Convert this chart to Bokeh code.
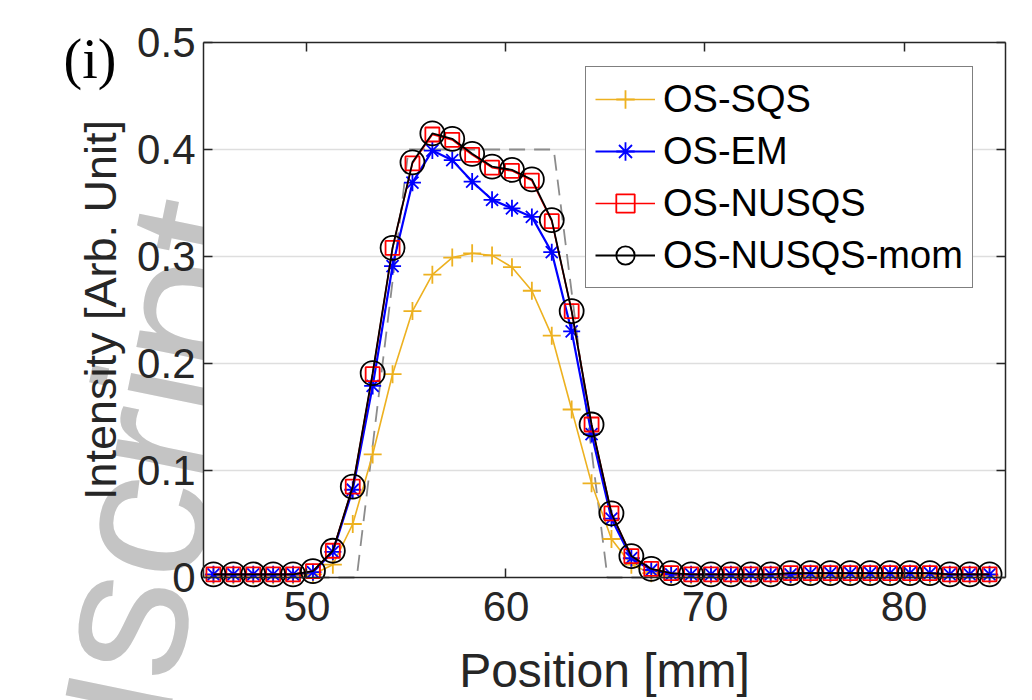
from bokeh.plotting import figure
from bokeh.models import (Range1d, FixedTicker, LinearAxis, Legend, LegendItem, Grid)
from bokeh.core.properties import value
from bokeh.embed import file_html
from bokeh.resources import INLINE
from math import radians

# ---------------- data ----------------
position_mm = [45.3, 46.3, 47.3, 48.3, 49.3, 50.3, 51.3, 52.3, 53.3, 54.3,
               55.3, 56.3, 57.3, 58.3, 59.3, 60.3, 61.3, 62.3, 63.3, 64.3,
               65.3, 66.3, 67.3, 68.3, 69.3, 70.3, 71.3, 72.3, 73.3, 74.3,
               75.3, 76.3, 77.3, 78.3, 79.3, 80.3, 81.3, 82.3, 83.3, 84.3]

os_sqs = [0.002, 0.002, 0.002, 0.002, 0.002, 0.003, 0.012, 0.050, 0.115, 0.190,
          0.249, 0.283, 0.299, 0.303, 0.301, 0.290, 0.268, 0.226, 0.157, 0.088,
          0.036, 0.012, 0.004, 0.002, 0.002, 0.002, 0.002, 0.002, 0.002, 0.002,
          0.002, 0.002, 0.002, 0.002, 0.002, 0.002, 0.002, 0.002, 0.002, 0.002]

os_em = [0.003, 0.003, 0.003, 0.003, 0.003, 0.005, 0.024, 0.082, 0.179, 0.291,
         0.369, 0.399, 0.390, 0.370, 0.353, 0.345, 0.337, 0.304, 0.230, 0.134,
         0.055, 0.018, 0.007, 0.003, 0.003, 0.003, 0.003, 0.003, 0.003, 0.003,
         0.004, 0.004, 0.004, 0.004, 0.004, 0.004, 0.004, 0.003, 0.003, 0.003]

os_nusqs = [0.003, 0.003, 0.003, 0.003, 0.003, 0.006, 0.025, 0.085, 0.190, 0.308,
            0.387, 0.414, 0.409, 0.395, 0.383, 0.380, 0.371, 0.333, 0.249, 0.143,
            0.060, 0.020, 0.008, 0.004, 0.003, 0.003, 0.003, 0.003, 0.003, 0.004,
            0.004, 0.004, 0.004, 0.004, 0.004, 0.004, 0.004, 0.003, 0.003, 0.003]

os_nusqs_mom = [0.003, 0.003, 0.003, 0.003, 0.003, 0.006, 0.025, 0.085, 0.191, 0.308,
                0.388, 0.415, 0.410, 0.396, 0.384, 0.381, 0.372, 0.334, 0.249, 0.143,
                0.060, 0.020, 0.008, 0.004, 0.003, 0.003, 0.003, 0.003, 0.003, 0.004,
                0.004, 0.004, 0.004, 0.004, 0.004, 0.004, 0.004, 0.003, 0.003, 0.003]

truth_x = [45.3, 52.5, 55.1, 62.4, 65.1, 84.3]
truth_y = [0.0, 0.0, 0.4, 0.4, 0.0, 0.0]

series_names = ["OS-SQS", "OS-EM", "OS-NUSQS", "OS-NUSQS-mom"]
x_ticks = [50, 60, 70, 80]
y_ticks = [0, 0.1, 0.2, 0.3, 0.4, 0.5]
y_tick_labels = ["0", "0.1", "0.2", "0.3", "0.4", "0.5"]
grid_ticks = [0.1, 0.2, 0.3, 0.4]

# ---------------- geometry ----------------
W, H = 1032, 700
FL, FR, FT, FB = 203, 1005, 42, 577      # axes box in canvas pixels
X0, X1 = 44.8, 85.1
Y0, Y1 = 0.0, 0.5
SX = (FR - FL) / (X1 - X0)
SY = (FB - FT) / (Y1 - Y0)

def dx(px):
    return X0 + (px - FL) / SX

def dy(py):
    return Y1 - (py - FT) / SY

FONT = "Liberation Sans"
DARK = "#262626"

p = figure(width=W, height=H, output_backend="svg", toolbar_location=None,
           x_range=Range1d(dx(0), dx(W)), y_range=Range1d(dy(H), dy(0)),
           x_axis_location=None, y_axis_location=None, min_border=0)
p.background_fill_color = "white"
p.border_fill_color = "white"
p.outline_line_color = None
p.xgrid.visible = False
p.ygrid.visible = False

# watermark, then a white axes background over it
p.text(x=[dx(202)], y=[dy(203)], text=["uscript"], angle=radians(78.5),
       text_align="right", text_baseline="alphabetic",
       text_font=value(FONT), text_font_size="200px", text_color="#c4c4c4",
       level="image")
p.quad(left=[X0], right=[X1], bottom=[Y0], top=[Y1], fill_color="white",
       line_color=None, level="image")

# grid
if "cross_bounds" in Grid.properties():
    g = Grid(dimension=1, ticker=FixedTicker(ticks=grid_ticks),
             cross_bounds=(X0, X1), grid_line_color="#dedede", grid_line_width=1.5)
    p.add_layout(g)
else:
    p.segment(x0=[X0] * len(grid_ticks), x1=[X1] * len(grid_ticks), y0=grid_ticks,
              y1=grid_ticks, line_color="#dedede", line_width=1.5, level="underlay")

def style_axis(ax):
    ax.axis_line_color = DARK
    ax.axis_line_width = 1.5
    ax.major_tick_line_color = DARK
    ax.major_tick_line_width = 1.5
    ax.major_tick_in = 9
    ax.major_tick_out = 0
    ax.minor_tick_line_color = None
    ax.major_label_text_font = FONT
    ax.major_label_text_font_size = "42px"
    ax.major_label_text_color = DARK
    ax.axis_label_text_font = FONT
    ax.axis_label_text_font_style = "normal"
    ax.axis_label_text_color = DARK

yax = LinearAxis(ticker=FixedTicker(ticks=y_ticks), fixed_location=X0, bounds=(Y0, Y1))
style_axis(yax)
yax.major_label_overrides = {t: s for t, s in zip(y_ticks, y_tick_labels)}
yax.axis_label = "Intensity [Arb. Unit]"
yax.axis_label_text_font_size = "45px"
yax.major_label_standoff = 8
yax.axis_label_standoff = 8
p.add_layout(yax, "left")

xax = LinearAxis(ticker=FixedTicker(ticks=x_ticks), fixed_location=Y0, bounds=(X0, X1))
style_axis(xax)
xax.axis_label = "Position [mm]"
xax.axis_label_text_font_size = "48px"
xax.major_label_standoff = 14
xax.axis_label_standoff = 20
p.add_layout(xax, "below")

rax = LinearAxis(ticker=FixedTicker(ticks=y_ticks), fixed_location=X1, bounds=(Y0, Y1))
style_axis(rax)
rax.major_label_overrides = {t: "" for t in y_ticks}
p.add_layout(rax, "right")

tax = LinearAxis(ticker=FixedTicker(ticks=x_ticks), fixed_location=Y1, bounds=(X0, X1))
style_axis(tax)
tax.major_label_overrides = {t: "" for t in x_ticks}
p.add_layout(tax, "above")

# ground truth
p.line(truth_x, truth_y, line_color="#8c8c8c", line_width=1.8, line_dash="16 9")

renderers = []
styles = [
    (os_sqs, "#EDB120", "cross", 18, 1.6),
    (os_em, "#0000FF", "asterisk", 17, 2.2),
    (os_nusqs, "#FF0000", "square", 14, 1.6),
    (os_nusqs_mom, "#000000", "circle", 24, 1.8),
]
for vals, col, mk, sz, lw in styles:
    ln = p.line(position_mm, vals, line_color=col, line_width=lw)
    sc = p.scatter(position_mm, vals, marker=mk, size=sz, line_color=col,
                   fill_color=None, line_width=1.8)
    renderers.append([ln, sc])

legend = Legend(items=[LegendItem(label=n, renderers=r) for n, r in zip(series_names, renderers)],
                location=(585, H - 68 - 220))
legend.margin = 0
legend.padding = 9
legend.spacing = 6
legend.glyph_width = 60
legend.glyph_height = 46
legend.label_height = 46
legend.label_standoff = 8
legend.label_text_font = FONT
legend.label_text_font_size = "38px"
legend.label_text_color = "black"
legend.border_line_color = "black"
legend.border_line_width = 1.5
legend.background_fill_color = "white"
legend.background_fill_alpha = 1.0
p.add_layout(legend)

# panel letter
p.text(x=[dx(63)], y=[dy(58)], text=["(i)"], text_align="left",
       text_baseline="alphabetic", text_font=value("Liberation Serif"),
       text_font_size="56px", text_color="black")

open("out.html", "w").write(file_html(p, INLINE))
